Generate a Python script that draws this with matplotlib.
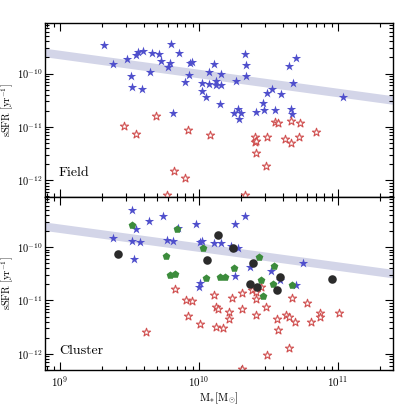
import numpy as np
import matplotlib
matplotlib.use("Agg")
import matplotlib.pyplot as plt
from matplotlib.ticker import LogLocator, NullFormatter

plt.rcParams['mathtext.fontset'] = 'cm'
plt.rcParams['font.family'] = ['cmr10', 'DejaVu Serif']
plt.rcParams['axes.formatter.use_mathtext'] = True

# ---------------- data (log10 values) ----------------
# Field: star-forming (blue filled stars)
field_sf_logM = [9.32, 9.38, 9.48, 9.51, 9.52, 9.55, 9.56, 9.60, 9.59, 9.65, 9.66, 9.71, 9.73, 9.78,
                 9.79, 9.80, 9.81, 9.86, 9.90, 9.93, 9.935, 9.95, 10.02, 10.02, 10.05, 10.07, 10.07,
                 10.11, 10.12, 10.12, 10.16, 10.16, 10.15, 10.27, 10.25, 10.28, 10.305, 10.29, 10.33,
                 10.34, 10.34, 10.41, 10.46, 10.47, 10.49, 10.525, 10.55, 10.59, 10.65, 10.70, 10.68,
                 10.66, 10.67, 11.04]
field_sf_logS = [-9.46, -9.83, -9.72, -10.04, -10.26, -9.645, -9.60, -9.58, -10.28, -9.97, -9.615, -9.64,
                 -9.76, -9.88, -9.80, -9.45, -10.74, -9.62, -10.16, -10.03, -9.80, -9.79, -10.18, -10.33,
                 -10.44, -9.98, -10.20, -9.83, -10.14, -10.22, -10.00, -10.21, -10.57, -10.14, -10.73,
                 -10.66, -10.74, -10.85, -9.64, -9.84, -10.05, -10.72, -10.55, -10.69, -10.37, -10.29,
                 -10.69, -10.39, -9.85, -9.70, -10.18, -10.66, -10.75, -10.44]
# Field: passive (red open stars)
field_q_logM = [9.46, 9.55, 9.69, 9.82, 9.90, 9.92, 9.77, 10.08, 10.40, 10.40, 10.41, 10.41, 10.48, 10.49,
                10.55, 10.57, 10.62, 10.66, 10.66, 10.72, 10.73, 10.84, 10.33]
field_q_logS = [-10.99, -11.13, -10.80, -11.83, -11.95, -11.06, -12.28, -11.15, -11.18, -11.29, -11.26,
                -11.48, -11.73, -11.19, -10.90, -10.93, -11.23, -10.89, -11.30, -11.19, -10.93, -11.10,
                -12.27]

# Cluster: star-forming (blue filled stars)
cl_sf_logM = [9.515, 9.74, 9.64, 9.55, 9.85, 9.98, 9.38, 9.52, 9.575, 9.77, 9.81, 10.01, 10.02, 9.53,
              10.01, 10.00, 10.33, 10.26, 10.11, 10.16, 10.23, 10.28, 10.37, 10.26, 10.52, 10.58, 10.70,
              10.75]
cl_sf_logS = [-9.31, -9.42, -9.50, -9.65, -9.64, -9.56, -9.82, -9.88, -9.91, -9.86, -9.89, -9.91, -9.88,
              -10.22, -10.68, -10.75, -9.42, -9.57, -9.93, -9.93, -9.98, -10.02, -10.38, -10.54, -10.45,
              -10.62, -10.71, -10.29]
# Cluster: green pentagons
cl_green_logM = [9.515, 9.845, 10.03, 9.76, 9.79, 9.83, 10.05, 10.15, 10.19, 10.25, 10.43, 10.445, 10.46,
                 10.53, 10.54, 10.67]
cl_green_logS = [-9.58, -9.655, -10.02, -10.16, -10.53, -10.50, -10.58, -10.555, -10.555, -10.39, -10.19,
                 -10.61, -10.91, -10.69, -10.36, -10.71]
# Cluster: black circles
cl_black_logM = [9.42, 10.06, 10.14, 10.245, 10.39, 10.37, 10.42, 10.58, 10.565, 10.96]
cl_black_logS = [-10.13, -10.24, -9.78, -10.02, -10.30, -10.69, -10.75, -10.56, -10.80, -10.60]
# Cluster: passive (red open stars)
cl_q_logM = [9.825, 9.91, 9.95, 9.92, 10.005, 9.62, 10.11, 10.12, 10.14, 10.22, 10.215, 10.12, 10.17,
             10.24, 10.31, 10.31, 10.31, 10.38, 10.41, 10.41, 10.41, 10.48, 10.49, 10.45, 10.56, 10.57,
             10.63, 10.65, 10.65, 10.67, 10.69, 10.78, 10.81, 10.87, 10.87, 11.01]
cl_q_logS = [-10.78, -10.99, -11.015, -11.285, -11.45, -11.59, -10.90, -11.13, -11.16, -11.22, -11.345,
             -11.49, -11.52, -10.95, -10.855, -11.16, -12.285, -10.80, -10.84, -10.97, -11.27, -11.12,
             -12.03, -10.75, -11.34, -11.56, -11.28, -11.31, -11.89, -10.96, -11.41, -11.04, -11.40,
             -11.23, -11.31, -11.23]

# main-sequence band: log sSFR at log M = 10 and slope, half width
band_logM = [8.8, 11.5]
band_center_at10 = -10.0
band_slope = -0.355
band_halfwidth = 0.08

panel_labels = ["Field", "Cluster"]

# ---------------- plotting ----------------
blue = '#4f4fcc'
red = '#d05050'
green = '#3c8c3c'
black = '#2b2b2b'
band_color = '#d3d5e8'

fig = plt.figure(figsize=(4.15, 4.15), dpi=100)
ax_top = fig.add_axes([0.1084, 0.526, 0.839, 0.419])
ax_bot = fig.add_axes([0.1084, 0.1084, 0.839, 0.4178], sharex=ax_top)

def P(a):
    return 10 ** np.asarray(a)

bx = np.linspace(band_logM[0], band_logM[1], 50)
bc = band_center_at10 + band_slope * (bx - 10)

for ax in (ax_top, ax_bot):
    ax.fill_between(P(bx), P(bc - band_halfwidth), P(bc + band_halfwidth),
                    color=band_color, lw=0, zorder=1)

ax_top.scatter(P(field_sf_logM), P(field_sf_logS), marker='*', s=50, c=blue, lw=0, zorder=3)
ax_top.scatter(P(field_q_logM), P(field_q_logS), marker='*', s=38, facecolors='white',
               edgecolors=red, linewidths=0.8, zorder=3)

ax_bot.scatter(P(cl_q_logM), P(cl_q_logS), marker='*', s=38, facecolors='white',
               edgecolors=red, linewidths=0.8, zorder=2)
ax_bot.scatter(P(cl_sf_logM), P(cl_sf_logS), marker='*', s=50, c=blue, lw=0, zorder=3)
ax_bot.scatter(P(cl_green_logM), P(cl_green_logS), marker='p', s=34, c=green, lw=0, zorder=4)
ax_bot.scatter(P(cl_black_logM), P(cl_black_logS), marker='o', s=38, c=black, lw=0, zorder=5)

for ax, lab, ty in ((ax_top, panel_labels[0], 0.12), (ax_bot, panel_labels[1], 0.09)):
    ax.set_xscale('log')
    ax.set_yscale('log')
    ax.set_xlim(7.8e8, 2.5e11)
    ax.set_ylim(4.95e-13, 8.9e-10)
    ax.tick_params(which='both', direction='in', top=True, right=True, labelsize=8, width=0.8)
    ax.tick_params(which='major', length=6, pad=3)
    ax.tick_params(axis='y', which='major', labelsize=7.5, pad=2)
    ax.tick_params(which='minor', length=3)
    ax.yaxis.set_minor_locator(LogLocator(base=10, subs=np.arange(2, 10), numticks=20))
    ax.xaxis.set_minor_locator(LogLocator(base=10, subs=np.arange(2, 10), numticks=20))
    ax.yaxis.set_minor_formatter(NullFormatter())
    ax.xaxis.set_minor_formatter(NullFormatter())
    for sp in ax.spines.values():
        sp.set_linewidth(1.0)
    ax.text(0.04, ty, lab, transform=ax.transAxes, fontsize=10, va='baseline', ha='left')
    ax.set_ylabel(r'$\mathrm{sSFR\ [yr^{-1}]}$', fontsize=7.5)
    ax.yaxis.set_label_coords(-0.083, 0.5)

plt.setp(ax_top.get_xticklabels(), visible=False)
ax_bot.set_xlabel(r'$\mathrm{M_{*}[M_{\odot}]}$', fontsize=8)
ax_bot.xaxis.set_label_coords(0.5, -0.12)

fig.savefig('out.png', dpi=100)
